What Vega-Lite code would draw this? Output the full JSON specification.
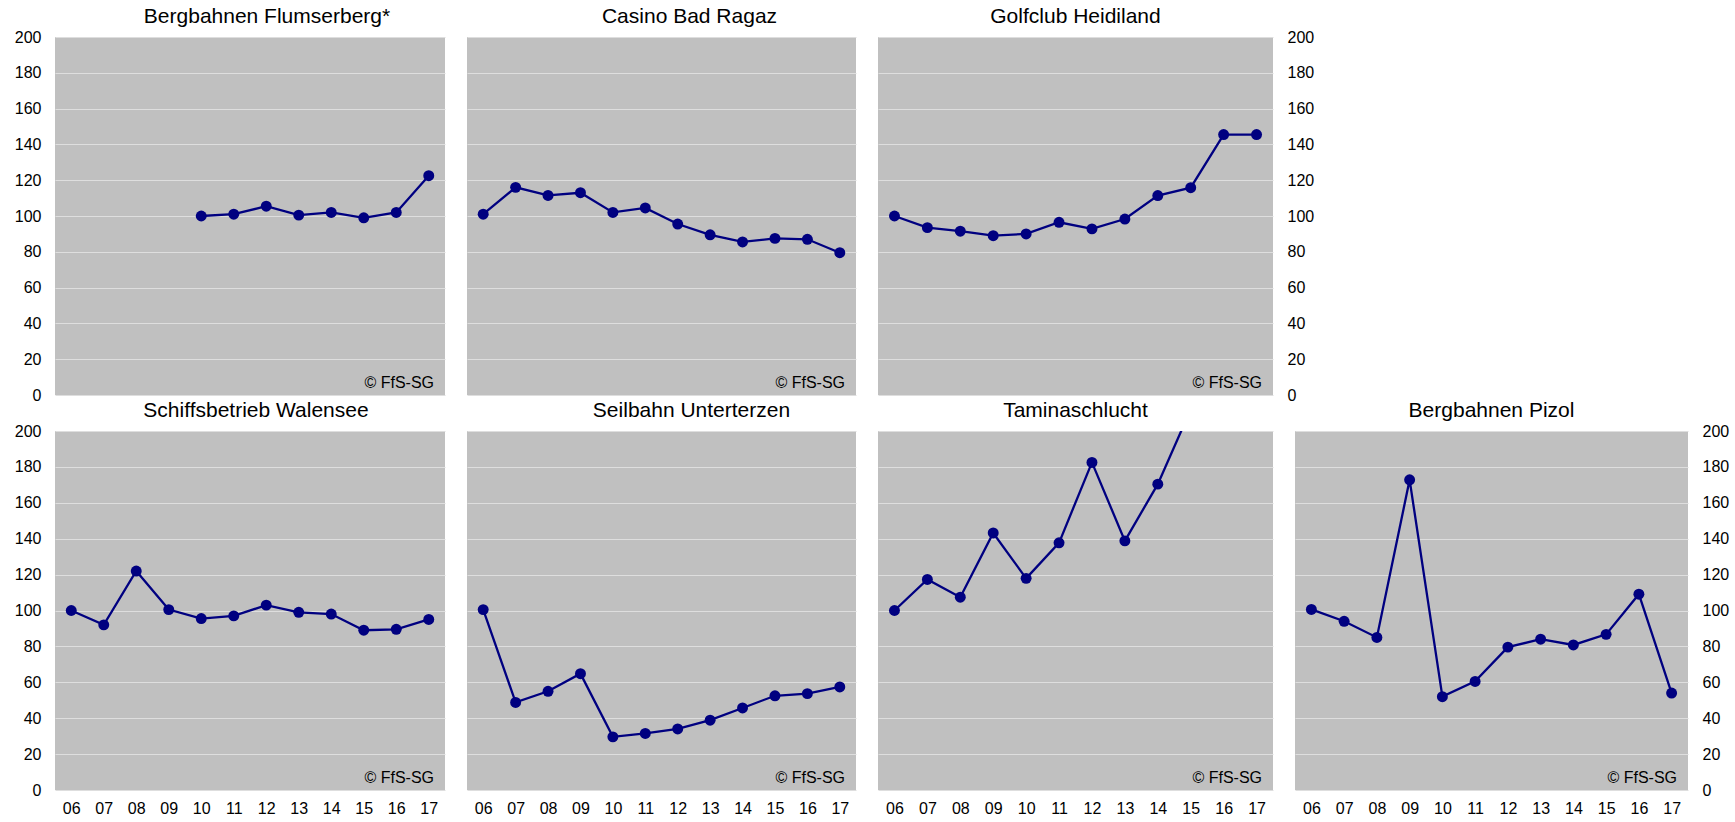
{
  "$schema": "https://vega.github.io/schema/vega-lite/v6.json",
  "background": "white",
  "padding": {"left": 14, "top": 6, "right": 5, "bottom": 2},
  "data": {"values": [
    {"panel": "flums", "year": "10", "value": 100},
    {"panel": "flums", "year": "11", "value": 101},
    {"panel": "flums", "year": "12", "value": 105.5},
    {"panel": "flums", "year": "13", "value": 100.5},
    {"panel": "flums", "year": "14", "value": 102},
    {"panel": "flums", "year": "15", "value": 99},
    {"panel": "flums", "year": "16", "value": 102},
    {"panel": "flums", "year": "17", "value": 122.5},
    {"panel": "casino", "year": "06", "value": 101},
    {"panel": "casino", "year": "07", "value": 116},
    {"panel": "casino", "year": "08", "value": 111.5},
    {"panel": "casino", "year": "09", "value": 113},
    {"panel": "casino", "year": "10", "value": 102},
    {"panel": "casino", "year": "11", "value": 104.5},
    {"panel": "casino", "year": "12", "value": 95.5},
    {"panel": "casino", "year": "13", "value": 89.5},
    {"panel": "casino", "year": "14", "value": 85.5},
    {"panel": "casino", "year": "15", "value": 87.5},
    {"panel": "casino", "year": "16", "value": 87},
    {"panel": "casino", "year": "17", "value": 79.5},
    {"panel": "golf", "year": "06", "value": 100},
    {"panel": "golf", "year": "07", "value": 93.5},
    {"panel": "golf", "year": "08", "value": 91.5},
    {"panel": "golf", "year": "09", "value": 89},
    {"panel": "golf", "year": "10", "value": 90},
    {"panel": "golf", "year": "11", "value": 96.5},
    {"panel": "golf", "year": "12", "value": 92.8},
    {"panel": "golf", "year": "13", "value": 98.3},
    {"panel": "golf", "year": "14", "value": 111.4},
    {"panel": "golf", "year": "15", "value": 115.8},
    {"panel": "golf", "year": "16", "value": 145.5},
    {"panel": "golf", "year": "17", "value": 145.5},
    {"panel": "schiff", "year": "06", "value": 100},
    {"panel": "schiff", "year": "07", "value": 92},
    {"panel": "schiff", "year": "08", "value": 122},
    {"panel": "schiff", "year": "09", "value": 100.5},
    {"panel": "schiff", "year": "10", "value": 95.5},
    {"panel": "schiff", "year": "11", "value": 97},
    {"panel": "schiff", "year": "12", "value": 103},
    {"panel": "schiff", "year": "13", "value": 99},
    {"panel": "schiff", "year": "14", "value": 98},
    {"panel": "schiff", "year": "15", "value": 89},
    {"panel": "schiff", "year": "16", "value": 89.5},
    {"panel": "schiff", "year": "17", "value": 95},
    {"panel": "seil", "year": "06", "value": 100.5},
    {"panel": "seil", "year": "07", "value": 48.8},
    {"panel": "seil", "year": "08", "value": 55},
    {"panel": "seil", "year": "09", "value": 64.8},
    {"panel": "seil", "year": "10", "value": 29.6},
    {"panel": "seil", "year": "11", "value": 31.5},
    {"panel": "seil", "year": "12", "value": 34},
    {"panel": "seil", "year": "13", "value": 38.9},
    {"panel": "seil", "year": "14", "value": 45.7},
    {"panel": "seil", "year": "15", "value": 52.5},
    {"panel": "seil", "year": "16", "value": 53.7},
    {"panel": "seil", "year": "17", "value": 57.4},
    {"panel": "tamina", "year": "06", "value": 100},
    {"panel": "tamina", "year": "07", "value": 117.3},
    {"panel": "tamina", "year": "08", "value": 107.4},
    {"panel": "tamina", "year": "09", "value": 143.2},
    {"panel": "tamina", "year": "10", "value": 117.9},
    {"panel": "tamina", "year": "11", "value": 137.7},
    {"panel": "tamina", "year": "12", "value": 182.5},
    {"panel": "tamina", "year": "13", "value": 138.8},
    {"panel": "tamina", "year": "14", "value": 170.4},
    {"panel": "tamina", "year": "15", "value": 212},
    {"panel": "pizol", "year": "06", "value": 100.6},
    {"panel": "pizol", "year": "07", "value": 94},
    {"panel": "pizol", "year": "08", "value": 85},
    {"panel": "pizol", "year": "09", "value": 172.8},
    {"panel": "pizol", "year": "10", "value": 52},
    {"panel": "pizol", "year": "11", "value": 60.5},
    {"panel": "pizol", "year": "12", "value": 79.6},
    {"panel": "pizol", "year": "13", "value": 84},
    {"panel": "pizol", "year": "14", "value": 80.8},
    {"panel": "pizol", "year": "15", "value": 86.7},
    {"panel": "pizol", "year": "16", "value": 109.1},
    {"panel": "pizol", "year": "17", "value": 54}
  ]},
  "config": {
    "font": "Liberation Sans",
    "view": {"fill": "#c0c0c0", "stroke": null},
    "axis": {"minExtent": 0, "labelFont": "Liberation Sans", "labelFontSize": 16, "labelColor": "#000000", "ticks": false, "domain": false, "title": null, "gridColor": "#dedede", "gridWidth": 1, "gridOpacity": 1},
    "title": {"font": "Liberation Sans", "fontSize": 21, "fontWeight": "normal", "color": "#000000", "baseline": "alphabetic", "offset": 2, "anchor": "middle", "frame": "group"}
  },
  "vconcat": [
    {
      "hconcat": [
        {
          "width": 390, "height": 358,
          "title": {"text": "Bergbahnen Flumserberg*", "dx": 17},
          "encoding": {
            "x": {"field": "year", "type": "ordinal", "scale": {"type": "point", "padding": 0.5, "domain": ["06","07","08","09","10","11","12","13","14","15","16","17"]}, "axis": {"labels": false, "grid": false}},
            "y": {"field": "value", "type": "quantitative", "scale": {"domain": [0, 200], "nice": false}, "axis": {"orient": "left", "values": [0,20,40,60,80,100,120,140,160,180,200], "grid": true, "labelPadding": 14}}
          },
          "layer": [
            {"transform": [{"filter": "datum.panel === 'flums'"}], "mark": {"type": "line", "color": "#000080", "strokeWidth": 2.3, "clip": true}},
            {"transform": [{"filter": "datum.panel === 'flums'"}], "mark": {"type": "point", "filled": true, "size": 120, "color": "#000080", "opacity": 1, "clip": true}},
            {"data": {"values": [{}]}, "mark": {"type": "text", "text": "© FfS-SG", "align": "right", "baseline": "bottom", "dx": -11, "dy": -4, "fontSize": 16, "color": "#000000"}, "encoding": {"x": {"value": "width"}, "y": {"value": "height"}}}
          ]
        },
        {
          "width": 389, "height": 358,
          "title": {"text": "Casino Bad Ragaz", "dx": 28, "offset": 10},
          "encoding": {
            "x": {"field": "year", "type": "ordinal", "scale": {"type": "point", "padding": 0.5, "domain": ["06","07","08","09","10","11","12","13","14","15","16","17"]}, "axis": {"labels": false, "grid": false}},
            "y": {"field": "value", "type": "quantitative", "scale": {"domain": [0, 200], "nice": false}, "axis": {"labels": false, "values": [0,20,40,60,80,100,120,140,160,180,200], "grid": true}}
          },
          "layer": [
            {"transform": [{"filter": "datum.panel === 'casino'"}], "mark": {"type": "line", "color": "#000080", "strokeWidth": 2.3, "clip": true}},
            {"transform": [{"filter": "datum.panel === 'casino'"}], "mark": {"type": "point", "filled": true, "size": 120, "color": "#000080", "opacity": 1, "clip": true}},
            {"data": {"values": [{}]}, "mark": {"type": "text", "text": "© FfS-SG", "align": "right", "baseline": "bottom", "dx": -11, "dy": -4, "fontSize": 16, "color": "#000000"}, "encoding": {"x": {"value": "width"}, "y": {"value": "height"}}}
          ]
        },
        {
          "width": 395, "height": 358,
          "title": {"text": "Golfclub Heidiland"},
          "encoding": {
            "x": {"field": "year", "type": "ordinal", "scale": {"type": "point", "padding": 0.5, "domain": ["06","07","08","09","10","11","12","13","14","15","16","17"]}, "axis": {"labels": false, "grid": false}},
            "y": {"field": "value", "type": "quantitative", "scale": {"domain": [0, 200], "nice": false}, "axis": {"orient": "right", "values": [0,20,40,60,80,100,120,140,160,180,200], "grid": true, "labelPadding": 14}}
          },
          "layer": [
            {"transform": [{"filter": "datum.panel === 'golf'"}], "mark": {"type": "line", "color": "#000080", "strokeWidth": 2.3, "clip": true}},
            {"transform": [{"filter": "datum.panel === 'golf'"}], "mark": {"type": "point", "filled": true, "size": 120, "color": "#000080", "opacity": 1, "clip": true}},
            {"data": {"values": [{}]}, "mark": {"type": "text", "text": "© FfS-SG", "align": "right", "baseline": "bottom", "dx": -11, "dy": -4, "fontSize": 16, "color": "#000000"}, "encoding": {"x": {"value": "width"}, "y": {"value": "height"}}}
          ]
        }
      ],
      "spacing": 22
    },
    {
      "hconcat": [
        {
          "width": 390, "height": 359,
          "title": {"text": "Schiffsbetrieb Walensee", "dx": 6},
          "encoding": {
            "x": {"field": "year", "type": "ordinal", "scale": {"type": "point", "padding": 0.5, "domain": ["06","07","08","09","10","11","12","13","14","15","16","17"]}, "axis": {"labelAngle": 0, "labelPadding": 10, "grid": false}},
            "y": {"field": "value", "type": "quantitative", "scale": {"domain": [0, 200], "nice": false}, "axis": {"orient": "left", "values": [0,20,40,60,80,100,120,140,160,180,200], "grid": true, "labelPadding": 14}}
          },
          "layer": [
            {"transform": [{"filter": "datum.panel === 'schiff'"}], "mark": {"type": "line", "color": "#000080", "strokeWidth": 2.3, "clip": true}},
            {"transform": [{"filter": "datum.panel === 'schiff'"}], "mark": {"type": "point", "filled": true, "size": 120, "color": "#000080", "opacity": 1, "clip": true}},
            {"data": {"values": [{}]}, "mark": {"type": "text", "text": "© FfS-SG", "align": "right", "baseline": "bottom", "dx": -11, "dy": -4, "fontSize": 16, "color": "#000000"}, "encoding": {"x": {"value": "width"}, "y": {"value": "height"}}}
          ]
        },
        {
          "width": 389, "height": 359,
          "title": {"text": "Seilbahn Unterterzen", "dx": 30, "offset": 10},
          "encoding": {
            "x": {"field": "year", "type": "ordinal", "scale": {"type": "point", "padding": 0.5, "domain": ["06","07","08","09","10","11","12","13","14","15","16","17"]}, "axis": {"labelAngle": 0, "labelPadding": 10, "grid": false}},
            "y": {"field": "value", "type": "quantitative", "scale": {"domain": [0, 200], "nice": false}, "axis": {"labels": false, "values": [0,20,40,60,80,100,120,140,160,180,200], "grid": true}}
          },
          "layer": [
            {"transform": [{"filter": "datum.panel === 'seil'"}], "mark": {"type": "line", "color": "#000080", "strokeWidth": 2.3, "clip": true}},
            {"transform": [{"filter": "datum.panel === 'seil'"}], "mark": {"type": "point", "filled": true, "size": 120, "color": "#000080", "opacity": 1, "clip": true}},
            {"data": {"values": [{}]}, "mark": {"type": "text", "text": "© FfS-SG", "align": "right", "baseline": "bottom", "dx": -11, "dy": -4, "fontSize": 16, "color": "#000000"}, "encoding": {"x": {"value": "width"}, "y": {"value": "height"}}}
          ]
        },
        {
          "width": 395, "height": 359,
          "title": {"text": "Taminaschlucht", "offset": 10},
          "encoding": {
            "x": {"field": "year", "type": "ordinal", "scale": {"type": "point", "padding": 0.5, "domain": ["06","07","08","09","10","11","12","13","14","15","16","17"]}, "axis": {"labelAngle": 0, "labelPadding": 10, "grid": false}},
            "y": {"field": "value", "type": "quantitative", "scale": {"domain": [0, 200], "nice": false}, "axis": {"labels": false, "values": [0,20,40,60,80,100,120,140,160,180,200], "grid": true}}
          },
          "layer": [
            {"transform": [{"filter": "datum.panel === 'tamina'"}], "mark": {"type": "line", "color": "#000080", "strokeWidth": 2.3, "clip": true}},
            {"transform": [{"filter": "datum.panel === 'tamina'"}], "mark": {"type": "point", "filled": true, "size": 120, "color": "#000080", "opacity": 1, "clip": true}},
            {"data": {"values": [{}]}, "mark": {"type": "text", "text": "© FfS-SG", "align": "right", "baseline": "bottom", "dx": -11, "dy": -4, "fontSize": 16, "color": "#000000"}, "encoding": {"x": {"value": "width"}, "y": {"value": "height"}}}
          ]
        },
        {
          "width": 393, "height": 359,
          "title": {"text": "Bergbahnen Pizol"},
          "encoding": {
            "x": {"field": "year", "type": "ordinal", "scale": {"type": "point", "padding": 0.5, "domain": ["06","07","08","09","10","11","12","13","14","15","16","17"]}, "axis": {"labelAngle": 0, "labelPadding": 10, "grid": false}},
            "y": {"field": "value", "type": "quantitative", "scale": {"domain": [0, 200], "nice": false}, "axis": {"orient": "right", "values": [0,20,40,60,80,100,120,140,160,180,200], "grid": true, "labelPadding": 14}}
          },
          "layer": [
            {"transform": [{"filter": "datum.panel === 'pizol'"}], "mark": {"type": "line", "color": "#000080", "strokeWidth": 2.3, "clip": true}},
            {"transform": [{"filter": "datum.panel === 'pizol'"}], "mark": {"type": "point", "filled": true, "size": 120, "color": "#000080", "opacity": 1, "clip": true}},
            {"data": {"values": [{}]}, "mark": {"type": "text", "text": "© FfS-SG", "align": "right", "baseline": "bottom", "dx": -11, "dy": -4, "fontSize": 16, "color": "#000000"}, "encoding": {"x": {"value": "width"}, "y": {"value": "height"}}}
          ]
        }
      ],
      "spacing": 22
    }
  ],
  "spacing": -3
}
